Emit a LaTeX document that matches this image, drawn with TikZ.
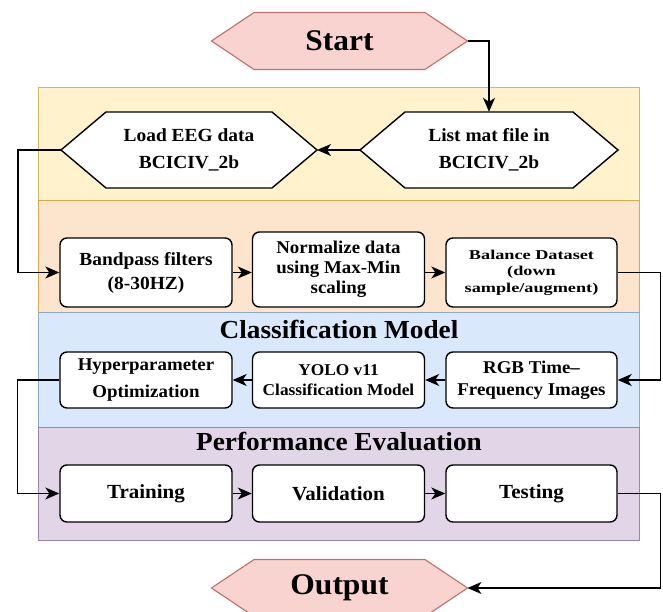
\documentclass[tikz,border=0pt]{standalone}
\usepackage{fontspec}
\setmainfont{Liberation Serif}[FakeStretch=1.05]
\newfontfamily\balfont{Liberation Serif}[FakeStretch=1.35]
\usetikzlibrary{arrows.meta,calc}
\definecolor{pinkF}{HTML}{F8D3D0}
\definecolor{pinkD}{HTML}{C0706A}
\definecolor{yelF}{HTML}{FFF2CC}
\definecolor{yelD}{HTML}{D6B656}
\definecolor{oraF}{HTML}{FDE4CC}
\definecolor{oraD}{HTML}{D9A94A}
\definecolor{bluF}{HTML}{DAE8FC}
\definecolor{bluD}{HTML}{8FA9CF}
\definecolor{purF}{HTML}{E1D5E7}
\definecolor{purD}{HTML}{9C84AC}
\newcommand{\hexnode}[9]{%
  \draw[#7] ({#2-#4/2},{#3-#5/2}) -- ({#2+#4/2},{#3-#5/2}) -- ({#2+#4/2+#6},#3)
     -- ({#2+#4/2},{#3+#5/2}) -- ({#2-#4/2},{#3+#5/2}) -- ({#2-#4/2-#6},#3) -- cycle;
  \node[hexlabel,minimum width=#4,minimum height=#5,#8] (#1) at (#2,#3) {#9};
  \coordinate (#1-l) at ({#2-#4/2-#6},#3);
  \coordinate (#1-r) at ({#2+#4/2+#6},#3);}
\begin{document}
\begin{tikzpicture}[x=1pt,y=-1pt,
  panel/.style={line width=0.9pt},
  hexlabel/.style={inner sep=0pt,align=center,font=\bfseries},
  termhex/.style={fill=pinkF,draw=pinkD,line width=1.1pt},
  whitehex/.style={fill=white,draw=black,line width=1.4pt},
  stepbox/.style={draw=black,fill=white,rounded corners=7pt,line width=1.4pt,
    align=center,font=\bfseries,inner sep=0pt,minimum width=172,minimum height=69},
  flow/.style={line width=1.3pt,-{Stealth[length=14pt,width=12pt,inset=4pt]}},
  title/.style={font=\bfseries\fontsize{26}{28}\selectfont}]
\useasboundingbox (0,0) rectangle (663,612);
% panels
\draw[panel,fill=yelF,draw=yelD] (38,87) rectangle (639,200);
\draw[panel,fill=oraF,draw=oraD] (38,200) rectangle (639,312);
\draw[panel,fill=bluF,draw=bluD] (38,312) rectangle (639,427);
\draw[panel,fill=purF,draw=purD] (38,427) rectangle (639,540);
\node[title] (t1) at (339,329) {Classification Model};
\node[title] (t2) at (339,442) {Performance Evaluation};
% hexagons
\hexnode{start}{339.5}{41}{171}{57}{42.5}{termhex}{font=\bfseries\fontsize{30}{32}\selectfont}{Start}
\hexnode{list}{489}{150}{168}{76}{45}{whitehex}{font=\bfseries\fontsize{18.5}{27}\selectfont}{List mat file in\\BCICIV\_2b}
\hexnode{load}{189}{150}{166}{76}{45}{whitehex}{font=\bfseries\fontsize{18.5}{27}\selectfont}{Load EEG data\\BCICIV\_2b}
\hexnode{out}{339.5}{588}{171}{57}{42.5}{termhex}{font=\bfseries\fontsize{30}{32}\selectfont}{Output}
% row 2
\node[stepbox,font=\bfseries\fontsize{18.5}{24}\selectfont] (bp) at (146,272.5) {Bandpass filters\\(8-30HZ)};
\node[stepbox,minimum height=75,font=\bfseries\fontsize{18}{20}\selectfont] (nm) at (338.5,269.5) {Normalize data\\using Max-Min\\scaling};
\node[stepbox,minimum width=171,font=\balfont\bfseries\fontsize{13.5}{16.5}\selectfont] (bl) at (531.5,272.5) {Balance Dataset\\(down\\sample/augment)};
% row 3
\node[stepbox,minimum height=56,font=\bfseries\fontsize{18}{27}\selectfont] (hp) at (146,380) {Hyperparameter\\Optimization};
\node[stepbox,minimum height=56,font=\bfseries\fontsize{16.5}{20}\selectfont] (yo) at (338.5,380) {YOLO v11\\Classification Model};
\node[stepbox,minimum width=171,minimum height=56,font=\bfseries\fontsize{18}{22}\selectfont] (rgb) at (531.5,380) {RGB Time–\\Frequency Images};
% row 4
\node[stepbox,minimum height=57,font=\bfseries\fontsize{20}{22}\selectfont] (tr) at (146,493.5) {Training};
\node[stepbox,minimum height=57,font=\bfseries\fontsize{20}{22}\selectfont] (va) at (338.5,493.5) {Validation};
\node[stepbox,minimum width=171,minimum height=57,font=\bfseries\fontsize{20}{22}\selectfont] (te) at (531.5,493.5) {Testing};
% connectors
\draw[flow] (start-r) -| (list.north);
\draw[flow] (list-l) -- (load-r);
\draw[flow] (load-l) -- ++(-43,0) |- (bp.west);
\draw[flow] (bp.east) -- (bp.east -| nm.west);
\draw[flow] (bp.east -| nm.east) -- (bl.west);
\draw[flow] (bl.east) -- ++(43,0) |- (rgb.east);
\draw[flow] (rgb.west) -- (yo.east);
\draw[flow] (yo.west) -- (hp.east);
\draw[flow] (hp.west) -- ++(-42,0) |- (tr.west);
\draw[flow] (tr.east) -- (va.west);
\draw[flow] (va.east) -- (te.west);
\draw[flow] (te.east) -- ++(43,0) |- (out-r);
\end{tikzpicture}
\end{document}
